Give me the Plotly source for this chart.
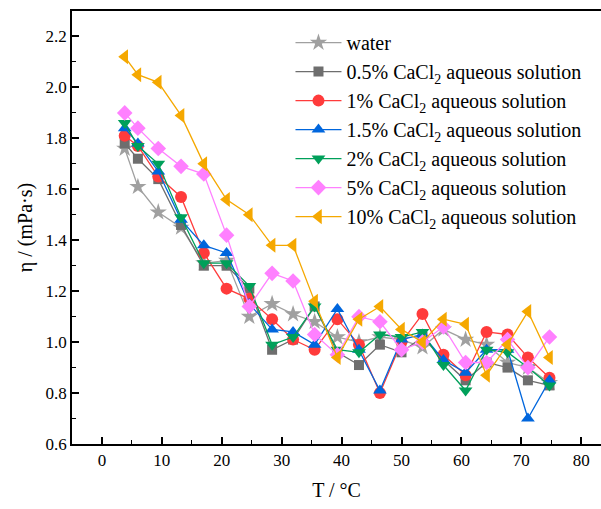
import plotly.graph_objects as go

T = [3.8, 6.0, 9.4, 13.2, 17.0, 20.8, 24.6, 28.4, 31.9, 35.5, 39.3,
     42.9, 46.4, 50.0, 53.5, 57.0, 60.7, 64.2, 67.7, 71.1, 74.7]

water = [1.76, 1.61, 1.51, 1.45, 1.31, 1.32, 1.10, 1.15, 1.11, 1.08, 1.02,
         1.00, 1.02, 1.01, 0.98, 1.05, 1.01, 0.99, 0.92, 0.90, 0.84]
cacl_05 = [1.78, 1.72, 1.64, 1.46, 1.30, 1.30, 1.21, 0.97, 1.01, 1.14, 0.96,
           0.91, 0.99, 0.96, 1.02, 0.93, 0.85, 0.92, 0.90, 0.85, 0.83]
cacl_1 = [1.81, 1.77, 1.65, 1.57, 1.35, 1.21, 1.17, 1.09, 1.01, 0.97, 1.09,
          0.99, 0.80, 1.00, 1.11, 0.95, 0.87, 1.04, 1.03, 0.94, 0.86]
cacl_15 = [1.84, 1.78, 1.67, 1.48, 1.38, 1.35, 1.15, 1.05, 1.04, 0.99, 1.13,
           0.97, 0.81, 1.01, 1.03, 0.93, 0.88, 0.97, 0.97, 0.70, 0.85]
cacl_2 = [1.86, 1.77, 1.70, 1.49, 1.31, 1.31, 1.22, 0.99, 1.02, 1.14, 0.97,
          0.96, 1.03, 1.02, 1.04, 0.91, 0.81, 0.97, 0.96, 0.90, 0.83]
cacl_5 = [1.90, 1.84, 1.76, 1.69, 1.66, 1.42, 1.14, 1.27, 1.24, 1.03, 0.95,
          1.10, 1.08, 0.97, 1.00, 1.06, 0.92, 0.92, 1.01, 0.90, 1.02]
cacl_10 = [2.12, 2.05, 2.02, 1.89, 1.70, 1.56, 1.50, 1.38, 1.38, 1.16, 0.94,
           1.09, 1.14, 1.05, 1.00, 1.09, 1.07, 0.87, 0.99, 1.12, 0.94]

names = ["water",
         "0.5% CaCl<sub>2</sub> aqueous solution",
         "1% CaCl<sub>2</sub> aqueous solution",
         "1.5% CaCl<sub>2</sub> aqueous solution",
         "2% CaCl<sub>2</sub> aqueous solution",
         "5% CaCl<sub>2</sub> aqueous solution",
         "10% CaCl<sub>2</sub> aqueous solution"]
series = [water, cacl_05, cacl_1, cacl_15, cacl_2, cacl_5, cacl_10]
colors = ["#A0A0A0", "#6E6E6E", "#FF3B3B", "#0066DD", "#00A05A", "#FF80FF", "#F5A800"]
symbols = ["star", "square", "circle", "triangle-up", "triangle-down", "diamond", "triangle-left"]
sizes = [13, 10, 12, 12, 12, 12, 13]

FF = "Times New Roman, Liberation Serif, serif"

fig = go.Figure()
for i, (nm, ys, c, s, sz) in enumerate(zip(names, series, colors, symbols, sizes)):
    fig.add_trace(go.Scatter(
        x=T, y=ys, name=nm, mode="lines+markers",
        line=dict(color=c, width=1.3),
        marker=dict(symbol=s, size=sz, color=c, line=dict(width=0)),
        legendgroup=str(i),
    ))

fig.update_layout(
    width=601, height=509,
    margin=dict(l=72, r=0, t=11, b=65),
    paper_bgcolor="white", plot_bgcolor="white",
    font=dict(family=FF, size=17, color="black"),
    showlegend=True,
    legend=dict(x=0.413, y=0.972, xanchor="left", yanchor="top",
                bgcolor="rgba(0,0,0,0)", font=dict(size=20, family=FF, color="black"),
                tracegroupgap=0, itemwidth=46),
    xaxis=dict(range=[-5, 83.3], showgrid=False, zeroline=False,
               showline=True, linecolor="black", linewidth=1.5, mirror=True,
               ticks="inside", ticklen=7, tickwidth=1.5, tickcolor="black",
               dtick=10, tick0=0,
               minor=dict(dtick=5, tick0=0, ticks="inside", ticklen=4, tickwidth=1.2, tickcolor="black"),
               tickfont=dict(size=17, family=FF, color="black"),
               title=dict(text="T / °C", font=dict(size=20, family=FF, color="black"), standoff=14)),
    yaxis=dict(range=[0.6, 2.3], showgrid=False, zeroline=False,
               showline=True, linecolor="black", linewidth=1.5, mirror=False,
               ticks="inside", ticklen=7, tickwidth=1.5, tickcolor="black",
               dtick=0.2, tick0=0.6, tickformat=".1f",
               minor=dict(dtick=0.1, tick0=0.6, ticks="inside", ticklen=4, tickwidth=1.2, tickcolor="black"),
               tickfont=dict(size=17, family=FF, color="black"),
               title=dict(text="η / (mPa·s)", font=dict(size=20, family=FF, color="black"), standoff=8)),
)

fig.write_html("out.html")
